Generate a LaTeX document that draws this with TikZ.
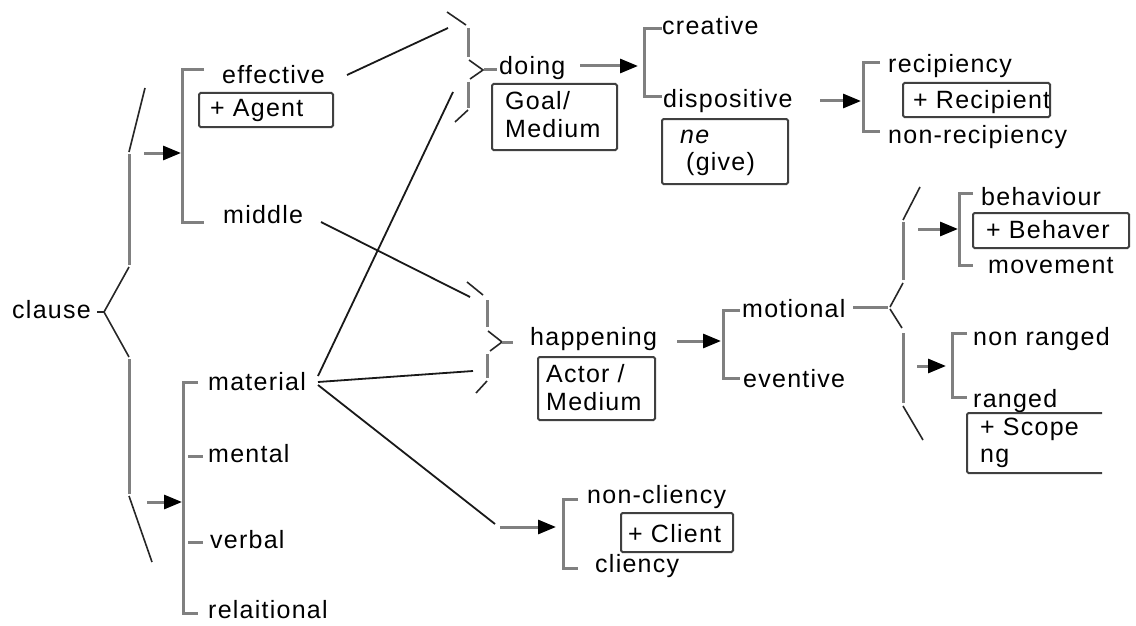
\documentclass[tikz,border=0pt]{standalone}
\usepackage{fontspec}
\newfontfamily\lblfont[LetterSpace=5]{Liberation Sans}
\usetikzlibrary{arrows.meta}
\begin{document}
\begin{tikzpicture}[x=1pt,y=-1pt,
  lbl/.style={anchor=base west,inner sep=0pt,font={\lblfont\fontsize{25}{30}\selectfont}},
  brk/.style={draw=black!50,line width=3pt},
  bdiag/.style={draw=black!85,line width=1.6pt},
  link/.style={draw=black!90,line width=1.8pt},
  arr/.style={draw=black!50,line width=3pt,-{Triangle[length=18pt,width=14pt,color=black]}},
  featbox/.style={draw=black!75,line width=2pt,rounded corners=1.5pt}]
\fill[white] (0,0) rectangle (1136,626);
\useasboundingbox (0,0) rectangle (1136,626);

% ---------- labels ----------
\node[lbl] (clause) at (12,318) {clause};
\node[lbl] (effective) at (222,84) {effective};
\node[lbl] (agent) at (210,117) {+ Agent};
\node[lbl] (middle) at (223,223) {middle};
\node[lbl] (material) at (208,390) {material};
\node[lbl] (mental) at (208,462) {mental};
\node[lbl] (verbal) at (210,548) {verbal};
\node[lbl] (relational) at (208,618) {relaitional};
\node[lbl] (doing) at (499,75) {doing};
\node[lbl] (goal1) at (505,110) {Goal/};
\node[lbl] (goal2) at (505,137) {Medium};
\node[lbl] (creative) at (662,35) {creative};
\node[lbl] (dispositive) at (663,107) {dispositive};
\node[lbl] (ne) at (680,143) {\itshape ne};
\node[lbl] (give) at (686,170) {(give)};
\node[lbl] (recipiency) at (888,73) {recipiency};
\node[lbl] (recipient) at (913,108) {+ Recipient};
\node[lbl] (nonrecip) at (888,143) {non-recipiency};
\node[lbl] (happening) at (530,345) {happening};
\node[lbl] (actor1) at (546,382) {Actor /};
\node[lbl] (actor2) at (546,410) {Medium};
\node[lbl] (motional) at (742,317) {motional};
\node[lbl] (eventive) at (743,387) {eventive};
\node[lbl] (behaviour) at (981,205) {behaviour};
\node[lbl] (behaver) at (986,238) {+ Behaver};
\node[lbl] (movement) at (988,273) {movement};
\node[lbl] (nonranged) at (973,345) {non ranged};
\node[lbl] (ranged) at (973,407) {ranged};
\node[lbl] (scope1) at (980,435) {+ Scope};
\node[lbl] (scope2) at (980,462) {ng};
\node[lbl] (noncliency) at (587,503) {non-cliency};
\node[lbl] (client) at (628,542) {+ Client};
\node[lbl] (cliency) at (595,572) {cliency};

% ---------- participant boxes ----------
\draw[featbox] (199,93) rectangle (333,127);
\draw[featbox] (492,84) rectangle (617,150);
\draw[featbox] (662,119) rectangle (788,184);
\draw[featbox] (903,83) rectangle (1050,117);
\draw[featbox] (538,357) rectangle (655,420);
\draw[featbox] (973,213) rectangle (1129,248);
\draw[featbox] (621,513) rectangle (733,552);
\draw[featbox] (1102,413) -- (967,413) -- (967,473) -- (1102,473);

% ---------- braces (simultaneous systems) ----------
% clause
\draw[bdiag] (145,88) -- (129,152);
\draw[brk] (129,154) -- (129,265);
\draw[bdiag] (129,267) -- (104,312) -- (129,357);
\draw[brk] (129,359) -- (129,494);
\draw[bdiag] (129,496) -- (152,562);
\draw[bdiag] (97,312) -- (104,312);
% doing (conjunctive entry)
\draw[bdiag] (447,12) -- (466,25);
\draw[brk] (468,28) -- (468,57);
\draw[bdiag] (469,60) -- (483,70) -- (470,79);
\draw[brk] (468,82) -- (468,108);
\draw[bdiag] (468,110) -- (455,122);
\draw[brk] (484,70) -- (497,70);
% happening (conjunctive entry)
\draw[bdiag] (467,282) -- (483,295);
\draw[brk] (487,300) -- (487,327);
\draw[bdiag] (488,331) -- (502,342) -- (490,351);
\draw[brk] (487,354) -- (487,378);
\draw[bdiag] (487,381) -- (476,393);
\draw[brk] (502,342) -- (513,342);
% motional
\draw[brk] (853,307) -- (888,307);
\draw[bdiag] (890,307) -- (903,283);
\draw[brk] (903,280) -- (903,222);
\draw[bdiag] (903,220) -- (920,187);
\draw[bdiag] (890,309) -- (902,328);
\draw[brk] (903,333) -- (903,403);
\draw[bdiag] (903,406) -- (923,440);

% ---------- brackets (systems) ----------
\draw[brk] (204,70) -- (182,70) -- (182,222) -- (204,222);
\draw[brk] (198,382) -- (183,382) -- (183,613) -- (198,613);
\draw[brk] (188,456) -- (203,456);
\draw[brk] (188,542) -- (203,542);
\draw[brk] (662,29) -- (644,29) -- (644,97) -- (662,97);
\draw[brk] (880,63) -- (863,63) -- (863,131) -- (880,131);
\draw[brk] (740,310) -- (723,310) -- (723,378) -- (740,378);
\draw[brk] (973,193) -- (959,193) -- (959,265) -- (973,265);
\draw[brk] (967,333) -- (952,333) -- (952,397) -- (967,397);
\draw[brk] (578,499) -- (563,499) -- (563,568) -- (578,568);

% ---------- connector end points ----------
\coordinate (clA) at (144,153);   \coordinate (effB) at (181,153);
\coordinate (clC) at (147,502);   \coordinate (matB) at (182,502);
\coordinate (doA) at (580,66);    \coordinate (doB) at (638,66);
\coordinate (diA) at (820,101);   \coordinate (diB) at (861,101);
\coordinate (haA) at (677,341);   \coordinate (haB) at (721,341);
\coordinate (moA) at (918,229);   \coordinate (moB) at (958,229);
\coordinate (moC) at (917,366);   \coordinate (moD) at (946,366);
\coordinate (clE) at (500,527);   \coordinate (clF) at (556,527);
\coordinate (effOut) at (347,75); \coordinate (doTop) at (448,28);
\coordinate (midOut) at (321,222);\coordinate (haTop) at (470,297);
\coordinate (matOut1) at (318,376); \coordinate (doBot) at (453,92);
\coordinate (matOut2) at (318,382); \coordinate (haBot) at (473,371);
\coordinate (matOut3) at (318,385); \coordinate (clEnd) at (495,524);

% ---------- arrows ----------
\draw[arr] (clA) -- (effB);
\draw[arr] (clC) -- (matB);
\draw[arr] (doA) -- (doB);
\draw[arr] (diA) -- (diB);
\draw[arr] (haA) -- (haB);
\draw[arr] (moA) -- (moB);
\draw[arr] (moC) -- (moD);
\draw[arr] (clE) -- (clF);

% ---------- cross links ----------
\draw[link] (effOut) -- (doTop);
\draw[link] (midOut) -- (haTop);
\draw[link] (matOut1) -- (doBot);
\draw[link] (matOut2) -- (haBot);
\draw[link] (matOut3) -- (clEnd);
\end{tikzpicture}
\end{document}
